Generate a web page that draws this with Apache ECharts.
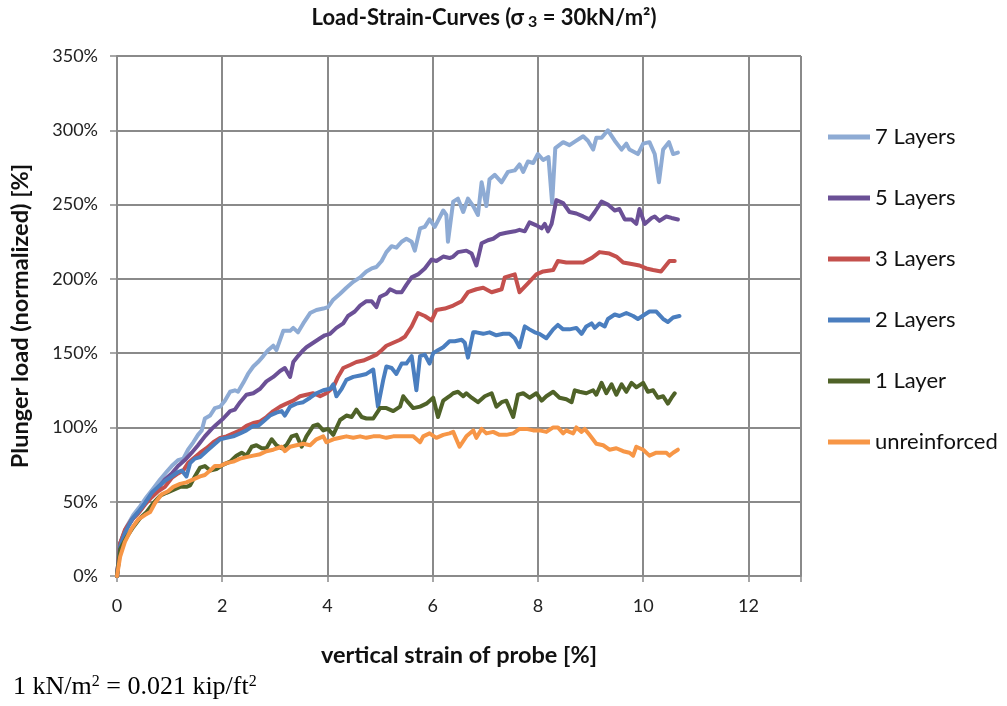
<!DOCTYPE html>
<html>
<head>
<meta charset="utf-8">
<script src="https://cdn.jsdelivr.net/npm/echarts@6/dist/echarts.min.js"></script>
<style>
html,body{margin:0;padding:0;background:#fff;}
#chart{width:1007px;height:706px;}
</style>
</head>
<body>
<div id="chart"></div>
<script>
const seriesNames = ['7 Layers', '5 Layers', '3 Layers', '2 Layers', '1 Layer', 'unreinforced'];
const yTickLabels = ['0%','50%','100%','150%','200%','250%','300%','350%'];
const xTickLabels = ['0','2','4','6','8','10','12'];

const sevenLayers = [[0,0],[0.06,22],[0.18,33],[0.31,41],[0.44,47],[0.56,53],[0.69,59],[0.82,65],[0.94,70],[1.04,74],[1.16,78],[1.26,79],[1.35,85],[1.45,90],[1.54,95],[1.61,98],[1.67,106],[1.77,108],[1.86,113],[1.96,114],[2.05,118],[2.15,124],[2.24,125],[2.30,124],[2.40,130],[2.49,136],[2.59,141],[2.68,144],[2.78,148],[2.87,152],[2.97,155],[3.03,152],[3.16,165],[3.29,165],[3.35,167],[3.44,164],[3.54,170],[3.67,177],[3.79,179],[3.92,180],[4.01,181],[4.11,186],[4.24,190],[4.36,194],[4.49,198],[4.62,201],[4.74,205],[4.84,207],[4.93,208],[5.03,212],[5.12,218],[5.22,222],[5.31,221],[5.41,225],[5.50,227],[5.60,225],[5.66,219],[5.76,234],[5.85,235],[5.94,240],[6.04,235],[6.10,239],[6.20,246],[6.26,243],[6.29,225],[6.39,252],[6.48,254],[6.58,245],[6.67,254],[6.77,249],[6.86,243],[6.93,265],[7.02,249],[7.08,267],[7.18,270],[7.31,265],[7.43,272],[7.56,273],[7.65,277],[7.72,272],[7.81,279],[7.91,278],[8.0,284],[8.10,280],[8.20,282],[8.27,251],[8.33,288],[8.48,292],[8.60,290],[8.73,293],[8.86,296],[8.95,293],[9.05,287],[9.11,295],[9.21,295],[9.33,300],[9.46,293],[9.59,287],[9.68,291],[9.74,287],[9.90,284],[10.0,291],[10.12,292],[10.22,284],[10.30,265],[10.38,287],[10.49,292],[10.57,284],[10.66,285]];

const fiveLayers = [[0,0],[0.06,22],[0.18,32],[0.31,39],[0.44,44],[0.56,50],[0.69,55],[0.78,59],[0.91,65],[1.04,69],[1.16,74],[1.29,78],[1.42,83],[1.54,88],[1.67,94],[1.80,99],[1.89,102],[2.02,106],[2.15,111],[2.24,112],[2.34,117],[2.46,122],[2.59,123],[2.72,126],[2.84,131],[2.97,134],[3.10,138],[3.19,140],[3.29,134],[3.35,144],[3.44,148],[3.54,152],[3.60,154],[3.73,157],[3.86,160],[3.95,162],[4.05,163],[4.17,167],[4.30,170],[4.39,175],[4.52,178],[4.62,182],[4.74,185],[4.84,185],[4.93,181],[5.0,188],[5.12,190],[5.19,193],[5.31,191],[5.41,191],[5.50,196],[5.60,201],[5.72,203],[5.85,207],[5.98,213],[6.07,212],[6.20,215],[6.32,214],[6.39,215],[6.48,218],[6.64,219],[6.74,217],[6.83,209],[6.93,224],[7.05,226],[7.15,227],[7.27,230],[7.40,231],[7.56,232],[7.65,233],[7.75,232],[7.84,238],[7.97,236],[8.07,234],[8.13,237],[8.19,232],[8.26,237],[8.35,253],[8.48,251],[8.60,245],[8.73,244],[8.86,242],[8.98,240],[9.08,245],[9.21,252],[9.33,250],[9.46,246],[9.55,247],[9.65,240],[9.78,240],[9.87,237],[9.93,247],[10.03,237],[10.16,241],[10.22,242],[10.31,239],[10.44,242],[10.54,241],[10.66,240]];

const threeLayers = [[0,0],[0.06,22],[0.15,31],[0.28,38],[0.40,42],[0.53,48],[0.66,53],[0.78,57],[0.91,60],[1.04,66],[1.16,69],[1.26,71],[1.35,76],[1.45,79],[1.58,83],[1.70,86],[1.83,90],[1.96,93],[2.08,94],[2.21,96],[2.34,98],[2.46,101],[2.59,103],[2.72,104],[2.84,107],[2.97,111],[3.10,114],[3.22,116],[3.35,118],[3.48,121],[3.60,122],[3.73,123],[3.86,121],[3.98,123],[4.11,127],[4.20,134],[4.30,140],[4.43,142],[4.55,144],[4.68,145],[4.81,147],[4.93,149],[5.03,152],[5.12,155],[5.25,157],[5.38,159],[5.47,161],[5.60,168],[5.72,177],[5.85,175],[5.98,172],[6.07,179],[6.23,180],[6.39,182],[6.55,185],[6.67,191],[6.83,193],[6.96,194],[7.12,191],[7.31,193],[7.37,201],[7.56,203],[7.65,191],[7.81,197],[7.97,203],[8.10,205],[8.29,206],[8.38,212],[8.54,211],[8.67,211],[8.86,211],[9.02,214],[9.17,218],[9.36,217],[9.49,215],[9.62,211],[9.78,210],[9.93,209],[10.06,207],[10.19,206],[10.34,205],[10.50,212],[10.60,212]];

const twoLayers = [[0,0],[0.06,20],[0.15,29],[0.28,38],[0.40,43],[0.53,49],[0.66,56],[0.78,60],[0.91,64],[1.04,67],[1.16,70],[1.23,71],[1.32,67],[1.39,76],[1.48,79],[1.58,80],[1.70,84],[1.83,88],[1.96,92],[2.08,93],[2.21,94],[2.34,96],[2.46,98],[2.59,101],[2.68,101],[2.78,104],[2.91,108],[3.03,110],[3.13,111],[3.19,108],[3.29,114],[3.41,116],[3.54,117],[3.67,120],[3.79,123],[3.92,125],[4.05,126],[4.11,129],[4.17,121],[4.27,126],[4.36,132],[4.49,134],[4.62,135],[4.74,136],[4.87,139],[4.96,114],[5.06,132],[5.12,141],[5.22,140],[5.31,136],[5.41,143],[5.50,143],[5.60,148],[5.69,125],[5.76,148],[5.85,149],[5.94,143],[6.01,150],[6.10,152],[6.20,154],[6.32,158],[6.42,158],[6.55,159],[6.61,157],[6.67,147],[6.77,164],[6.83,164],[6.96,163],[7.08,164],[7.21,162],[7.34,163],[7.46,163],[7.56,160],[7.65,154],[7.75,168],[7.84,166],[7.94,164],[8.03,163],[8.16,160],[8.29,166],[8.38,169],[8.48,166],[8.60,166],[8.73,167],[8.83,163],[8.92,168],[9.02,170],[9.08,167],[9.17,170],[9.27,168],[9.33,173],[9.46,176],[9.55,175],[9.68,177],[9.81,175],[9.90,173],[10.03,176],[10.12,178],[10.25,178],[10.38,173],[10.47,171],[10.57,174],[10.69,175]];

const oneLayer = [[0,0],[0.06,18],[0.18,26],[0.31,33],[0.44,39],[0.56,43],[0.69,49],[0.82,54],[0.94,56],[1.07,58],[1.20,60],[1.32,60],[1.39,61],[1.48,67],[1.58,73],[1.67,74],[1.77,71],[1.89,72],[2.02,75],[2.15,77],[2.27,81],[2.37,83],[2.46,81],[2.56,87],[2.65,88],[2.75,86],[2.84,86],[2.94,92],[3.03,88],[3.13,86],[3.22,88],[3.32,94],[3.41,95],[3.51,87],[3.60,94],[3.73,101],[3.82,102],[3.92,98],[4.01,99],[4.11,95],[4.24,105],[4.36,108],[4.46,107],[4.55,112],[4.65,107],[4.74,106],[4.87,106],[5.0,113],[5.12,113],[5.25,111],[5.38,114],[5.44,121],[5.53,117],[5.63,113],[5.76,114],[5.88,116],[6.01,120],[6.10,107],[6.20,118],[6.32,121],[6.39,123],[6.48,124],[6.58,121],[6.64,123],[6.74,120],[6.86,117],[6.99,121],[7.12,123],[7.21,114],[7.31,117],[7.40,118],[7.53,107],[7.62,122],[7.72,123],[7.84,120],[7.97,123],[8.07,118],[8.16,121],[8.29,124],[8.41,120],[8.54,119],[8.64,117],[8.70,125],[8.79,124],[8.92,123],[9.05,125],[9.11,122],[9.21,130],[9.30,123],[9.40,129],[9.49,122],[9.59,129],[9.68,124],[9.78,130],[9.87,127],[10.0,130],[10.09,124],[10.19,125],[10.28,120],[10.38,121],[10.47,116],[10.54,120],[10.60,123]];

const unreinforced = [[0,0],[0.06,13],[0.15,23],[0.28,32],[0.40,38],[0.53,41],[0.63,43],[0.72,49],[0.85,55],[0.97,57],[1.07,60],[1.20,62],[1.32,63],[1.45,65],[1.58,67],[1.67,68],[1.77,71],[1.86,74],[1.96,74],[2.08,76],[2.21,77],[2.34,79],[2.46,80],[2.59,81],[2.72,82],[2.84,84],[2.97,85],[3.13,87],[3.19,84],[3.29,87],[3.41,88],[3.54,89],[3.67,88],[3.79,92],[3.92,94],[3.98,90],[4.11,92],[4.24,93],[4.36,94],[4.49,93],[4.62,94],[4.74,93],[4.87,94],[5.0,94],[5.12,93],[5.25,94],[5.38,94],[5.50,94],[5.63,94],[5.76,90],[5.82,94],[5.94,96],[6.07,93],[6.20,95],[6.32,96],[6.39,97],[6.51,87],[6.64,94],[6.77,98],[6.83,93],[6.93,99],[7.02,96],[7.15,97],[7.27,95],[7.40,95],[7.53,96],[7.65,99],[7.78,99],[7.91,98],[8.03,98],[8.16,97],[8.29,100],[8.38,100],[8.48,96],[8.54,98],[8.60,97],[8.67,96],[8.73,100],[8.83,97],[8.89,99],[8.98,95],[9.11,89],[9.24,88],[9.36,85],[9.49,86],[9.62,84],[9.74,83],[9.81,81],[9.87,87],[10.0,85],[10.12,81],[10.25,83],[10.38,83],[10.44,83],[10.50,81],[10.57,83],[10.66,85]];

const seriesData = [sevenLayers, fiveLayers, threeLayers, twoLayers, oneLayer, unreinforced];
const seriesColors = ['#8eabd4', '#6b5096', '#c4504d', '#4a7ebf', '#4f6228', '#f79646'];

const font = 'Lato, "Open Sans", sans-serif';
const gridColor = '#8a8a8a';

const chart = echarts.init(document.getElementById('chart'), null, {renderer: 'canvas'});
chart.setOption({
  animation: false,
  backgroundColor: '#ffffff',
  title: {
    text: 'Load-Strain-Curves (σ{sub|3} = 30kN/m²)',
    left: 484, top: 6, textAlign: 'center', padding: 0,
    textStyle: {
      fontFamily: font, fontSize: 22, fontWeight: 'bold', color: '#111',
      rich: { sub: { fontFamily: font, fontSize: 16, fontWeight: 'bold', color: '#111', padding: [8, 0, 0, 4] } }
    }
  },
  legend: {
    orient: 'vertical',
    left: 828, top: 126, padding: 0,
    itemWidth: 42, itemHeight: 14, itemGap: 39,
    icon: 'path://M0,0 L42,0 L42,5 L0,5 Z',
    textStyle: { fontFamily: font, fontSize: 22, color: '#111', lineHeight: 22 },
    data: seriesNames
  },
  grid: { left: 117, right: 206, top: 56, bottom: 130, containLabel: false },
  xAxis: {
    type: 'value', min: 0, max: 13, interval: 2,
    name: 'vertical strain of probe [%]', nameLocation: 'middle', nameGap: 67,
    nameTextStyle: { fontFamily: font, fontSize: 23.5, fontWeight: 'bold', color: '#111' },
    axisLine: { show: true, lineStyle: { color: gridColor, width: 2 } },
    axisTick: { show: true, length: 6, lineStyle: { color: gridColor, width: 1.5 } },
    axisLabel: { fontFamily: font, fontSize: 18, color: '#222', margin: 21,
      formatter: v => { const i = xTickLabels.indexOf(String(v)); return i >= 0 ? xTickLabels[i] : ''; } },
    splitLine: { show: true, lineStyle: { color: gridColor, width: 2 } }
  },
  yAxis: {
    type: 'value', min: 0, max: 350, interval: 50,
    name: 'Plunger load (normalized) [%]', nameLocation: 'middle', nameGap: 85,
    nameTextStyle: { fontFamily: font, fontSize: 23.5, fontWeight: 'bold', color: '#111' },
    axisLine: { show: true, lineStyle: { color: gridColor, width: 2 } },
    axisTick: { show: true, length: 7, lineStyle: { color: gridColor, width: 1.5 } },
    axisLabel: { fontFamily: font, fontSize: 18, color: '#222', margin: 19,
      formatter: v => yTickLabels[Math.round(v / 50)] },
    splitLine: { show: true, lineStyle: { color: gridColor, width: 2 } }
  },
  graphic: [{
    type: 'text', left: 13, top: 674,
    style: {
      text: '1 kN/m{sup|2} = 0.021 kip/ft{sup|2}',
      fontFamily: '"Liberation Serif", "Times New Roman", serif', fontSize: 26, fill: '#000',
      rich: { sup: { fontFamily: '"Liberation Serif", serif', fontSize: 16, fill: '#000', padding: [0, 0, 11, 0] } }
    }
  }],
  series: seriesNames.map((name, i) => ({
    name: name,
    type: 'line',
    data: seriesData[i],
    symbol: 'none',
    showSymbol: false,
    smooth: false,
    color: seriesColors[i],
    lineStyle: { color: seriesColors[i], width: 4, join: 'round', cap: 'round' }
  }))
});
</script>
</body>
</html>
